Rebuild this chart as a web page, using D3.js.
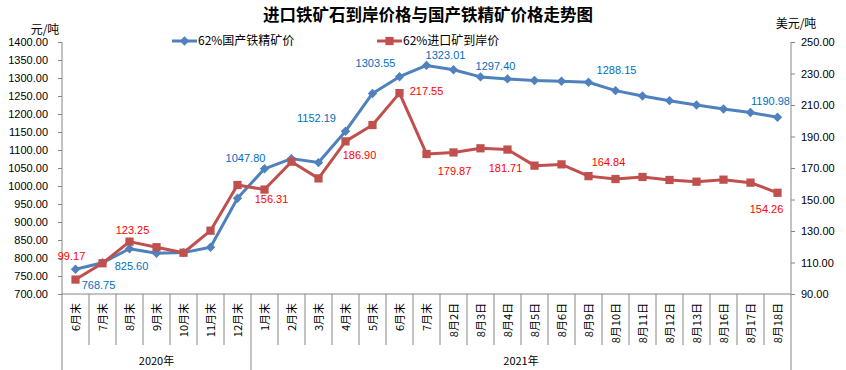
<!DOCTYPE html>
<html>
<head>
<meta charset="utf-8">
<script src="https://cdn.jsdelivr.net/npm/d3@7"></script>
<style>
  body { margin: 0; background: #fff; }
  svg { display: block; }
  text { font-family: "Liberation Sans", Arial, sans-serif; }
  .cjk { font-family: "Noto Sans CJK SC", sans-serif; }
</style>
</head>
<body>
<svg width="846" height="370"></svg>
<script>
const categories = ["6月末","7月末","8月末","9月末","10月末","11月末","12月末",
  "1月末","2月末","3月末","4月末","5月末","6月末","7月末",
  "8月2日","8月3日","8月4日","8月5日","8月6日","8月9日","8月10日",
  "8月11日","8月12日","8月13日","8月16日","8月17日","8月18日"];
const yearNames = ["2020年", "2021年"];
const yearCounts = [7, 20];

// 62%国产铁精矿价 (元/吨, left axis)
const domestic = [768.75, 787, 825.60, 813, 815, 830, 966, 1047.80, 1076, 1065,
  1152.19, 1257, 1303.55, 1335, 1323.01, 1303, 1297.40, 1293, 1291, 1288.15,
  1265, 1250, 1237, 1225, 1214, 1204, 1190.98];
// 62%进口矿到岸价 (美元/吨, right axis)
const imported = [99.17, 109.5, 123.25, 119.7, 116.2, 130.2, 159.2, 156.31, 174.0, 163.4,
  186.90, 197.3, 217.55, 178.9, 179.87, 182.5, 181.71, 171.5, 172.3, 164.84,
  163.0, 164.3, 162.4, 161.3, 162.6, 160.7, 154.26];

const leftTicks = d3.range(700, 1401, 50);
const rightTicks = d3.range(90, 251, 20);

// which points carry a data label
const domesticLabelIdx = [0, 2, 7, 10, 12, 14, 16, 19, 26];
const importedLabelIdx = [0, 2, 7, 10, 12, 14, 16, 19, 26];

const svg = d3.select("svg");
const margin = {top: 42, right: 55, bottom: 76, left: 62};
const W = 846, H = 370;
const width = W - margin.left - margin.right,
      height = H - margin.top - margin.bottom;

const g = svg.append("g").attr("transform", `translate(${margin.left},${margin.top})`);

const x = d3.scaleBand().domain(d3.range(categories.length)).range([0, width]);
const yL = d3.scaleLinear().domain([700, 1400]).range([height, 0]);
const yR = d3.scaleLinear().domain([90, 250]).range([height, 0]);
const cx = i => x(i) + x.bandwidth() / 2;

const axisColor = "#868686";

// left axis
const la = g.append("g").call(d3.axisLeft(yL).tickValues(leftTicks).tickFormat(d3.format(".2f")).tickSize(4).tickPadding(10));
la.select(".domain").attr("stroke", axisColor).attr("d", `M0,0V${height}`);
la.selectAll(".tick line").attr("stroke", axisColor);
la.selectAll("text").style("font-size", "11px").attr("fill", "#000");

// right axis
const ra = g.append("g").attr("transform", `translate(${width},0)`)
  .call(d3.axisRight(yR).tickValues(rightTicks).tickFormat(d3.format(".2f")).tickSize(4).tickPadding(6));
ra.select(".domain").attr("stroke", axisColor).attr("d", `M0,0V${height}`);
ra.selectAll(".tick line").attr("stroke", axisColor);
ra.selectAll("text").style("font-size", "11px").attr("fill", "#000");

// bottom axis line
g.append("line").attr("x1", 0).attr("x2", width).attr("y1", height).attr("y2", height)
  .attr("stroke", axisColor);

// category separators
const sepShort = 51, sepLong = 76;
let bounds = [0];
yearCounts.reduce((acc, c) => { bounds.push(acc + c); return acc + c; }, 0);
d3.range(categories.length + 1).forEach(i => {
  const xx = i < categories.length ? x(i) : width;
  const long = bounds.includes(i);
  g.append("line").attr("x1", xx).attr("x2", xx)
    .attr("y1", height).attr("y2", height + (long ? sepLong : sepShort))
    .attr("stroke", axisColor);
});

// category labels (rotated)
g.selectAll(".cat").data(categories).enter().append("text")
  .attr("class", "cjk")
  .attr("transform", (d, i) => `translate(${cx(i) + 4},${height + 9}) rotate(-90)`)
  .attr("text-anchor", "end")
  .style("font-size", "11px")
  .text(d => d);

// year labels
yearNames.forEach((nm, k) => {
  const x0 = bounds[k] < categories.length ? x(bounds[k]) : width;
  const x1 = bounds[k + 1] < categories.length ? x(bounds[k + 1]) : width;
  g.append("text").attr("class", "cjk")
    .attr("x", (x0 + x1) / 2).attr("y", height + 71)
    .attr("text-anchor", "middle").style("font-size", "11px").text(nm);
});

const blue = "#4F81BD", red = "#C0504D";

// lines
g.append("path").datum(domestic)
  .attr("fill", "none").attr("stroke", blue).attr("stroke-width", 3).attr("stroke-linejoin", "round")
  .attr("d", d3.line().x((d, i) => cx(i)).y(d => yL(d)));
g.append("path").datum(imported)
  .attr("fill", "none").attr("stroke", red).attr("stroke-width", 3).attr("stroke-linejoin", "round")
  .attr("d", d3.line().x((d, i) => cx(i)).y(d => yR(d)));

// markers
const diamond = d3.symbol().type(d3.symbolDiamond2).size(56);
const square = d3.symbol().type(d3.symbolSquare).size(68);
g.selectAll(".dm").data(domestic).enter().append("path")
  .attr("d", diamond).attr("fill", blue)
  .attr("transform", (d, i) => `translate(${cx(i)},${yL(d)})`);
g.selectAll(".sq").data(imported).enter().append("path")
  .attr("d", square).attr("fill", red)
  .attr("transform", (d, i) => `translate(${cx(i)},${yR(d)})`);

// data labels, offsets relative to the point
const domesticOff = [[23,16],[2,17],[-19,-11],[-29,-13],[-24,-14],[-8,-15],[-12,-13],[28,-12],[-7,-16]];
const importedOff = [[-4,-23],[3,-11],[7,10],[14,14],[27,-2],[1,19],[-2,19],[20,-14],[-11,16]];
domesticLabelIdx.forEach((i, k) => {
  g.append("text").attr("x", cx(i) + domesticOff[k][0]).attr("y", yL(domestic[i]) + domesticOff[k][1])
    .attr("dy", "0.35em").attr("text-anchor", "middle")
    .style("font-size", "11px").attr("fill", "#0070C0")
    .text(d3.format(".2f")(domestic[i]));
});
importedLabelIdx.forEach((i, k) => {
  g.append("text").attr("x", cx(i) + importedOff[k][0]).attr("y", yR(imported[i]) + importedOff[k][1])
    .attr("dy", "0.35em").attr("text-anchor", "middle")
    .style("font-size", "11px").attr("fill", "#FF0000")
    .text(d3.format(".2f")(imported[i]));
});

// title
svg.append("text").attr("class", "cjk")
  .attr("x", 428).attr("y", 21).attr("text-anchor", "middle")
  .style("font-size", "16.5px").style("font-weight", "bold")
  .text("进口铁矿石到岸价格与国产铁精矿价格走势图");

// unit labels
svg.append("text").attr("class", "cjk").attr("x", 45).attr("y", 34)
  .attr("text-anchor", "middle").style("font-size", "12px").text("元/吨");
svg.append("text").attr("class", "cjk").attr("x", 796).attr("y", 28)
  .attr("text-anchor", "middle").style("font-size", "12px").text("美元/吨");

// legend
const legend = [
  {name: "62%国产铁精矿价", color: blue, sym: diamond, x: 172},
  {name: "62%进口矿到岸价", color: red, sym: square, x: 377}
];
legend.forEach(l => {
  const lg = svg.append("g").attr("transform", `translate(${l.x},41)`);
  lg.append("line").attr("x1", 0).attr("x2", 25).attr("stroke", l.color).attr("stroke-width", 3);
  lg.append("path").attr("d", l.sym).attr("fill", l.color).attr("transform", "translate(12.5,0)");
  lg.append("text").attr("class", "cjk").attr("x", 26).attr("dy", "0.35em")
    .style("font-size", "12px").text(l.name);
});
</script>
</body>
</html>
